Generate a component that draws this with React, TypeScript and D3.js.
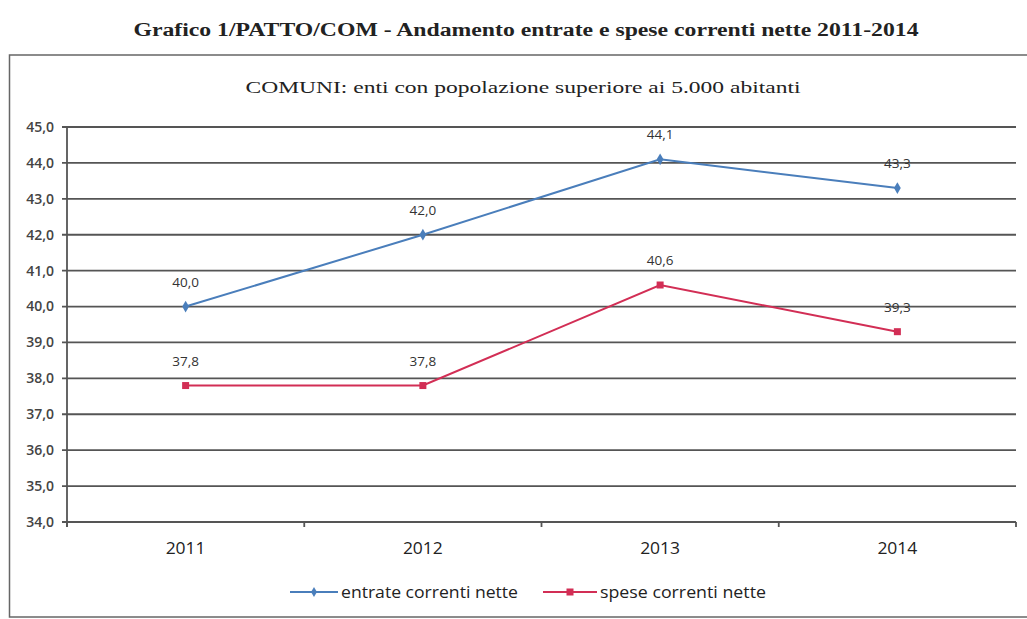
import React from "react";
import * as d3 from "d3";

const years = ["2011", "2012", "2013", "2014"];
const entrate = [40.0, 42.0, 44.1, 43.3];
const spese = [37.8, 37.8, 40.6, 39.3];
const yTicks = [34, 35, 36, 37, 38, 39, 40, 41, 42, 43, 44, 45];
const seriesNames = ["entrate correnti nette", "spese correnti nette"];

const W = 1027;
const H = 619;
const plot = { left: 67, right: 1016, top: 127, bottom: 522 };
const BLUE = "#4a7ebb";
const RED = "#d22e55";
const GRID = "#555";
const SANS = "'Open Sans', 'Noto Sans', sans-serif";
const SERIF = "'Liberation Serif', 'DejaVu Serif', serif";

const fmt = (v: number) => v.toFixed(1).replace(".", ",");

export default function App() {
  const x = d3.scaleBand<string>().domain(years).range([plot.left, plot.right]);
  const y = d3.scaleLinear().domain([34, 45]).range([plot.bottom, plot.top]);
  const cx = (c: string) => (x(c) ?? 0) + x.bandwidth() / 2;
  const line = d3
    .line<number>()
    .x((_, i) => cx(years[i]))
    .y((d) => y(d));

  const boundaries = years.map((c) => x(c) ?? 0).concat([plot.right]);

  return (
    <svg
      width={W}
      height={H}
      style={{ position: "absolute", left: 0, top: 0, background: "#fff" }}
    >
      <rect x={0} y={0} width={W} height={H} fill="#fff" />
      <text
        x={526}
        y={36}
        textAnchor="middle"
        fontFamily={SERIF}
        fontWeight="bold"
        fontSize={18}
        fill="#222"
        textLength={785}
        lengthAdjust="spacingAndGlyphs"
      >
        Grafico 1/PATTO/COM - Andamento entrate e spese correnti nette 2011-2014
      </text>

      {/* chart frame */}
      <rect x={9.5} y={55} width={1040} height={562} fill="none" stroke="#666" strokeWidth={1.5} />

      <text
        x={523}
        y={93}
        textAnchor="middle"
        fontFamily={SERIF}
        fontSize={17}
        fill="#222"
        textLength={555}
        lengthAdjust="spacingAndGlyphs"
      >
        COMUNI: enti con popolazione superiore ai 5.000 abitanti
      </text>

      {/* gridlines and y axis labels */}
      {yTicks.map((t) => (
        <g key={t}>
          <line x1={plot.left - 5} x2={plot.right} y1={y(t)} y2={y(t)} stroke={GRID} strokeWidth={1.8} />
          <text
            x={54}
            y={y(t)}
            dy="0.35em"
            textAnchor="end"
            fontFamily={SANS}
            fontSize={14}
            fontWeight={600}
            fill="#444"
          >
            {fmt(t)}
          </text>
        </g>
      ))}
      <line x1={plot.left} x2={plot.left} y1={plot.top} y2={plot.bottom + 5} stroke={GRID} strokeWidth={1.8} />
      {boundaries.map((b, i) => (
        <line key={i} x1={b} x2={b} y1={plot.bottom} y2={plot.bottom + 5} stroke={GRID} strokeWidth={1.8} />
      ))}

      {/* x axis labels */}
      {years.map((c) => (
        <text
          key={c}
          x={cx(c)}
          y={548}
          dy="0.35em"
          textAnchor="middle"
          fontFamily={SANS}
          fontSize={17}
          fill="#222"
          textLength={40}
          lengthAdjust="spacingAndGlyphs"
        >
          {c}
        </text>
      ))}

      {/* series lines */}
      <path d={line(entrate) ?? ""} fill="none" stroke={BLUE} strokeWidth={2} />
      <path d={line(spese) ?? ""} fill="none" stroke={RED} strokeWidth={2} />

      {entrate.map((v, i) => (
        <g key={"e" + i}>
          <path
            d={d3.symbol(d3.symbolDiamond, 40)() ?? ""}
            transform={`translate(${cx(years[i])},${y(v)})`}
            fill={BLUE}
          />
          <text x={cx(years[i])} y={y(v) - 20} textAnchor="middle" fontFamily={SANS} fontSize={13.5} fill="#333">
            {fmt(v)}
          </text>
        </g>
      ))}
      {spese.map((v, i) => (
        <g key={"s" + i}>
          <rect x={cx(years[i]) - 3.5} y={y(v) - 3.5} width={7} height={7} fill={RED} />
          <text x={cx(years[i])} y={y(v) - 20} textAnchor="middle" fontFamily={SANS} fontSize={13.5} fill="#333">
            {fmt(v)}
          </text>
        </g>
      ))}

      {/* legend */}
      <g fontFamily={SANS} fontSize={16} fill="#222">
        <line x1={290} x2={338} y1={592} y2={592} stroke={BLUE} strokeWidth={2} />
        <path d={d3.symbol(d3.symbolDiamond, 30)() ?? ""} transform="translate(314,592)" fill={BLUE} />
        <text x={341} y={592} dy="0.35em" textLength={177} lengthAdjust="spacingAndGlyphs">
          {seriesNames[0]}
        </text>
        <line x1={543} x2={597} y1={592} y2={592} stroke={RED} strokeWidth={2} />
        <rect x={566.5} y={588.5} width={7} height={7} fill={RED} />
        <text x={600} y={592} dy="0.35em" textLength={166} lengthAdjust="spacingAndGlyphs">
          {seriesNames[1]}
        </text>
      </g>
    </svg>
  );
}
